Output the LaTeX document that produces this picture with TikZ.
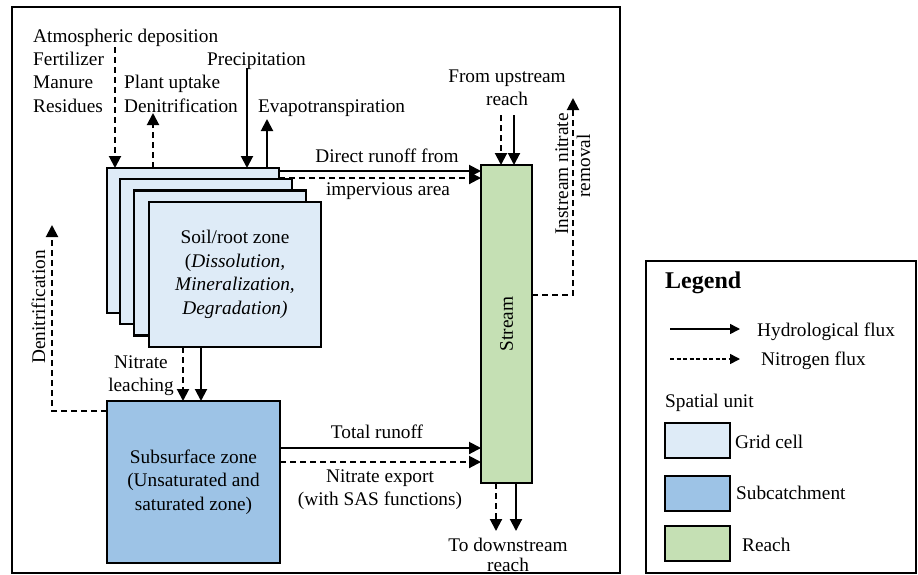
\documentclass[tikz,border=0pt]{standalone}
\usepackage{fontspec}
\setmainfont{Liberation Serif}
\usetikzlibrary{arrows.meta}
\definecolor{gridc}{RGB}{222,235,247}
\definecolor{subc}{RGB}{157,195,230}
\definecolor{reachc}{RGB}{197,224,180}
\begin{document}
\begin{tikzpicture}[x=1pt,y=-1pt,
  box/.style={draw, line width=2.2pt, inner sep=0pt, outer sep=0pt, anchor=north west},
  flow/.style={line width=2pt, -{Triangle[length=12pt,width=12pt]}},
  nflow/.style={flow, dash pattern=on 6pt off 4pt},
  lflow/.style={line width=1.5pt, -{Triangle[length=10pt,width=10pt]}},
  lnflow/.style={lflow, dash pattern=on 4pt off 2.5pt},
  txt/.style={font=\fontsize{19.3}{23.5}\selectfont, inner sep=0pt, anchor=base},
  txtl/.style={txt, anchor=base west},
  boxtxt/.style={font=\fontsize{19.3}{23.5}\selectfont, align=center},
]
\useasboundingbox (0,0) rectangle (918,574);
% frames
\node[box, line width=2pt, minimum width=608pt, minimum height=566pt] (frame) at (12,7) {};
\node[box, line width=2pt, minimum width=270pt, minimum height=312pt] (legend) at (646,261) {};

% grid cells
\node[box, fill=gridc, minimum width=172pt, minimum height=145pt] (g1) at (107,168) {};
\node[box, fill=gridc, minimum width=172pt, minimum height=145pt] (g2) at (120,179) {};
\node[box, fill=gridc, minimum width=172pt, minimum height=145pt] (g3) at (134,190.5) {};
\node[box, fill=gridc, minimum width=172pt, minimum height=145pt, boxtxt] (g4) at (149,202)
  {Soil/root zone\\(\textit{Dissolution,}\\\textit{Mineralization,}\\\textit{Degradation)}};
% subsurface
\node[box, fill=subc, minimum width=173pt, minimum height=162pt, boxtxt] (ss) at (107,401)
  {Subsurface zone\\(Unsaturated and\\saturated zone)};
% stream
\node[box, fill=reachc, minimum width=51pt, minimum height=318pt] (st) at (481,165) {};
\node[txt, anchor=center, rotate=90] (stl) at (st.center) {Stream};

% top-left texts
\node[txtl] (tatm) at (33,42) {Atmospheric deposition};
\node[txtl] (tfer) at (33,65) {Fertilizer};
\node[txtl] (tman) at (33,88) {Manure};
\node[txtl] (tres) at (33,112) {Residues};
\node[txtl] (tpu) at (124,88) {Plant uptake};
\node[txtl] (tden) at (124,112) {Denitrification};
\node[txtl] (tpre) at (207,65) {Precipitation};
\node[txtl] (tevp) at (258,112) {Evapotranspiration};

\coordinate (atm) at (115,47);
\coordinate (pu) at (153,113);
\coordinate (pr) at (247,68);
\coordinate (et) at (267,119);
\draw[nflow] (atm) -- (atm |- g1.north);
\draw[nflow] (pu |- g1.north) -- (pu);
\draw[flow] (pr) -- (pr |- g1.north);
\draw[flow] (et |- g1.north) -- (et);

% direct runoff
\coordinate (dr1) at (0,171);
\coordinate (dr2) at (0,178);
\draw[flow] (dr1 -| g1.east) -- (dr1 -| st.west);
\draw[nflow] (dr2 -| g1.east) -- (dr2 -| st.west);
\node[txt] (tdr) at (387,162) {Direct runoff from};
\node[txt] (timp) at (388,195) {impervious area};

% upstream
\node[txt] (tfu) at (507,82) {From upstream};
\node[txt] (tfur) at (507,105) {reach};
\coordinate (fu1) at (501,115);
\coordinate (fu2) at (514,115);
\draw[nflow] (fu1) -- (fu1 |- st.north);
\draw[flow] (fu2) -- (fu2 |- st.north);

% downstream
\coordinate (td1) at (496,531);
\coordinate (td2) at (516,531);
\draw[nflow] (td1 |- st.south) -- (td1);
\draw[flow] (td2 |- st.south) -- (td2);
\node[txt] (ttd) at (508,551) {To downstream};
\node[txt] (ttdr) at (508,571) {reach};

% instream removal
\coordinate (isy) at (0,295);
\coordinate (isr) at (573,98);
\draw[nflow] (isy -| st.east) -| (isr);
\node[txt, rotate=90, anchor=base] (tis1) at (568,174) {Instream nitrate};
\node[txt, rotate=90, anchor=base] (tis2) at (590,166) {removal};

% nitrate leaching
\coordinate (nl1) at (183,0);
\coordinate (nl2) at (201,0);
\draw[nflow] (nl1 |- g4.south) -- (nl1 |- ss.north);
\draw[flow] (nl2 |- g4.south) -- (nl2 |- ss.north);
\node[txt] (tnl1) at (141,368) {Nitrate};
\node[txt] (tnl2) at (141,391) {leaching};

% denitrification
\coordinate (dny) at (0,411);
\coordinate (dn) at (52,225);
\draw[nflow] (dny -| ss.west) -| (dn);
\node[txt, rotate=90, anchor=base] (tdn) at (45,307) {Denitrification};

% total runoff
\coordinate (tr1) at (0,448);
\coordinate (tr2) at (0,462);
\draw[flow] (tr1 -| ss.east) -- (tr1 -| st.west);
\draw[nflow] (tr2 -| ss.east) -- (tr2 -| st.west);
\node[txt] (ttr) at (377,438) {Total runoff};
\node[txt] (tne) at (380,482) {Nitrate export};
\node[txt] (tsas) at (380,505) {(with SAS functions)};

% legend
\node[txtl, font=\fontsize{24}{28}\selectfont\bfseries] (tleg) at (665,288) {Legend};
\coordinate (lh1) at (670,329);
\coordinate (lh2) at (740,329);
\coordinate (ln1) at (670,359);
\coordinate (ln2) at (740,359);
\draw[lflow] (lh1) -- (lh2);
\draw[lnflow] (ln1) -- (ln2);
\node[txtl] (thf) at (757,336) {Hydrological flux};
\node[txtl] (tnf) at (761,365) {Nitrogen flux};
\node[txtl] (tsu) at (665,407) {Spatial unit};
\node[box, line width=2pt, fill=gridc, minimum width=65pt, minimum height=35pt] (lg) at (665,423) {};
\node[box, line width=2pt, fill=subc, minimum width=65pt, minimum height=35pt] (ls) at (665,476) {};
\node[box, line width=2pt, fill=reachc, minimum width=65pt, minimum height=35pt] (lr) at (665,526) {};
\node[txtl] (tgc) at (735,448) {Grid cell};
\node[txtl] (tsc) at (736,499) {Subcatchment};
\node[txtl] (trc) at (742,551) {Reach};
\end{tikzpicture}
\end{document}
